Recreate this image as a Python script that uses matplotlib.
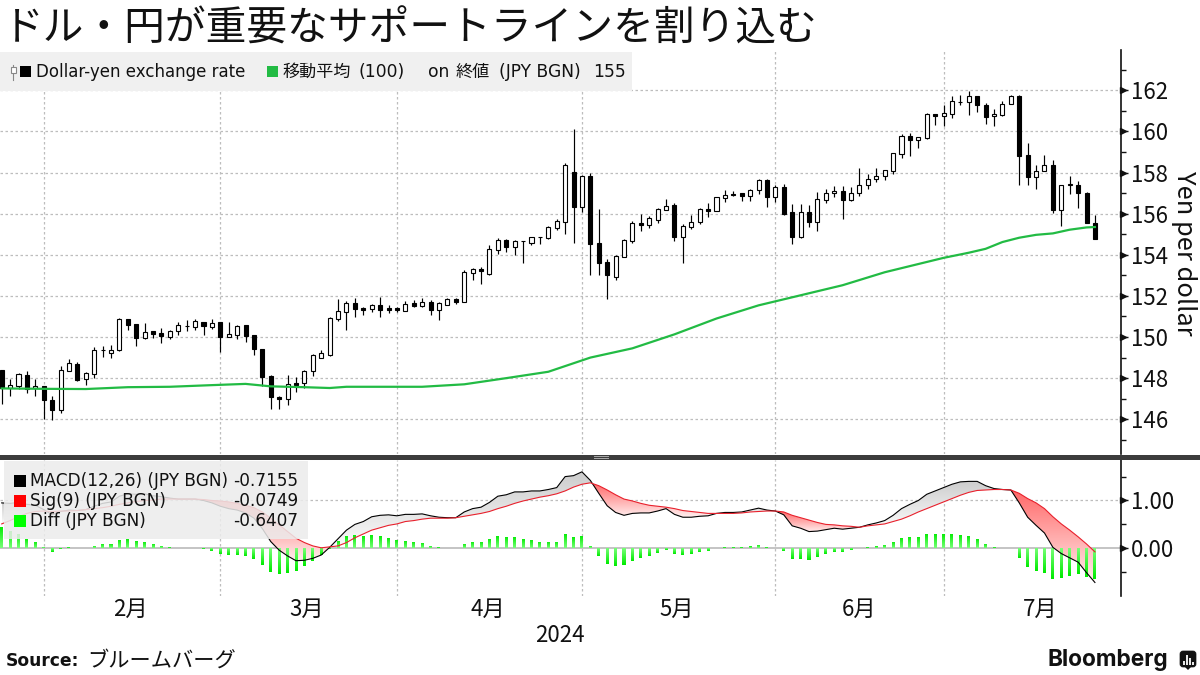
import numpy as np
import matplotlib
matplotlib.use('Agg')
import matplotlib.pyplot as plt
from matplotlib.patches import FancyBboxPatch, PathPatch, Rectangle, Polygon

plt.rcParams['font.family'] = ['Noto Sans CJK JP', 'DejaVu Sans']
LEGEND_FONT = ['DejaVu Sans', 'Noto Sans CJK JP']

# daily candles, Jan 25 - Jul 2024
candle_open = [148.39, 147.51, 147.64, 148.16, 147.51, 147.63, 146.96, 146.44, 148.34, 148.70,
               147.95, 148.20, 149.35, 149.20, 149.37, 150.86, 150.62, 149.93, 150.28, 150.18,
               149.98, 150.28, 150.55, 150.47, 150.75, 150.50, 150.72, 150.00, 150.10, 150.57,
               150.08, 149.43, 148.08, 147.10, 146.98, 147.77, 147.74, 148.34, 149.00, 149.11,
               150.86, 151.23, 151.65, 151.39, 151.36, 151.56, 151.41, 151.39, 151.28, 151.65,
               151.51, 151.70, 151.31, 151.57, 151.83, 151.72, 153.13, 153.31, 153.05, 154.25,
               154.72, 154.39, 154.65, 154.59, 154.85, 154.81, 155.30, 155.61, 158.02, 156.32,
               157.83, 154.57, 153.65, 152.93, 153.91, 154.68, 155.54, 155.46, 155.70, 156.19,
               156.40, 154.86, 155.33, 155.58, 156.24, 156.13, 156.78, 156.98, 156.99, 156.86,
               157.15, 157.63, 156.81, 157.32, 156.07, 154.85, 156.10, 155.59, 156.67, 156.99,
               157.12, 156.67, 157.01, 157.40, 157.69, 157.84, 158.08, 158.92, 159.80, 159.59,
               159.67, 160.83, 160.76, 160.83, 161.45, 161.45, 161.71, 161.27, 160.73, 160.81,
               161.32, 161.72, 158.83, 157.80, 158.08, 158.37, 156.20, 157.37, 157.37, 157.02,
               155.56]
candle_close = [147.53, 147.69, 148.18, 147.48, 147.64, 146.93, 146.44, 148.42, 148.72, 147.93,
                148.23, 149.35, 149.35, 149.38, 150.86, 150.59, 149.95, 150.26, 150.15, 150.05,
                150.31, 150.57, 150.55, 150.76, 150.54, 150.70, 150.00, 150.16, 150.55, 150.05,
                149.40, 148.05, 147.07, 146.98, 147.72, 147.69, 148.36, 149.11, 149.20, 150.91,
                151.28, 151.65, 151.38, 151.33, 151.54, 151.31, 151.33, 151.33, 151.62, 151.52,
                151.69, 151.31, 151.64, 151.85, 151.70, 153.14, 153.31, 153.23, 154.26, 154.72,
                154.39, 154.65, 154.65, 154.85, 154.85, 155.33, 155.62, 158.36, 156.32, 157.83,
                154.52, 153.60, 153.01, 153.94, 154.72, 155.54, 155.46, 155.77, 156.21, 156.39,
                154.86, 155.38, 155.61, 156.24, 156.13, 156.80, 156.93, 156.91, 156.86, 157.17,
                157.63, 156.81, 157.32, 156.00, 154.86, 156.10, 155.59, 156.73, 157.02, 157.12,
                156.67, 157.02, 157.37, 157.71, 157.85, 158.10, 158.93, 159.80, 159.59, 159.71,
                160.85, 160.76, 160.88, 161.46, 161.45, 161.71, 161.27, 160.72, 160.83, 161.32,
                161.72, 158.81, 157.79, 158.08, 158.37, 156.18, 157.37, 157.46, 157.01, 155.54,
                154.76]
candle_high = [148.42, 147.97, 148.23, 148.34, 147.97, 147.63, 147.12, 148.59, 148.91, 148.80,
               148.29, 149.53, 149.56, 149.59, 150.94, 150.86, 150.62, 150.70, 150.31, 150.46,
               150.36, 150.73, 150.81, 150.86, 150.75, 150.88, 150.72, 150.75, 150.60, 150.60,
               150.11, 149.43, 148.13, 147.15, 148.16, 148.05, 148.39, 149.19, 149.38, 150.98,
               151.87, 151.73, 151.88, 151.47, 151.59, 151.96, 151.54, 151.44, 151.77, 151.80,
               151.91, 151.78, 151.72, 151.90, 151.91, 153.26, 153.34, 153.40, 154.46, 154.81,
               154.78, 154.72, 154.65, 154.88, 154.88, 155.38, 155.75, 158.46, 160.13, 157.88,
               157.99, 156.24, 153.78, 153.99, 154.75, 155.66, 155.96, 155.90, 156.26, 156.73,
               156.52, 155.48, 155.95, 156.28, 156.54, 156.81, 157.17, 157.12, 157.01, 157.22,
               157.71, 157.67, 157.38, 157.43, 156.49, 156.49, 156.44, 157.06, 157.19, 157.35,
               157.35, 157.30, 158.23, 157.95, 158.24, 158.13, 158.96, 159.87, 159.90, 159.74,
               160.88, 160.83, 161.27, 161.71, 161.76, 161.97, 161.72, 161.40, 161.11, 161.50,
               161.79, 161.76, 159.45, 158.37, 158.83, 158.59, 157.37, 157.84, 157.61, 157.06,
               155.95]
candle_low = [146.72, 147.12, 147.48, 147.28, 147.15, 146.00, 145.95, 146.29, 148.34, 147.87,
              147.69, 148.00, 149.04, 148.98, 149.32, 150.34, 149.56, 149.90, 149.93, 149.71,
              149.90, 150.10, 150.31, 150.33, 150.10, 150.41, 149.25, 150.00, 149.90, 149.74,
              149.14, 147.61, 146.52, 146.52, 146.68, 147.32, 147.51, 148.10, 148.98, 149.06,
              150.78, 150.34, 150.99, 151.07, 151.23, 150.99, 151.18, 151.23, 151.28, 151.47,
              151.47, 151.07, 150.83, 151.54, 151.59, 151.70, 152.77, 152.59, 153.01, 154.04,
              154.15, 153.99, 153.60, 154.47, 154.54, 154.78, 155.20, 155.01, 154.55, 156.08,
              153.03, 153.03, 151.86, 152.77, 153.91, 154.59, 155.17, 155.32, 155.56, 156.18,
              154.67, 153.60, 155.25, 155.48, 155.85, 156.13, 156.57, 156.85, 156.63, 156.62,
              156.96, 156.33, 156.55, 155.95, 154.52, 154.81, 155.35, 155.15, 156.50, 156.81,
              155.72, 156.62, 156.86, 157.20, 157.54, 157.63, 157.92, 158.72, 158.82, 159.19,
              159.64, 160.29, 160.28, 160.67, 161.27, 160.81, 160.93, 160.34, 160.28, 160.76,
              161.32, 157.41, 157.37, 157.20, 158.08, 156.03, 155.40, 156.96, 156.29, 155.54,
              154.76]

# 100-day moving average, read at a few sessions
ma_index = [0, 5, 10, 15, 20, 25, 29, 32, 36, 39, 41, 50, 55, 60, 65, 70, 75, 80, 85, 90, 95,
            100, 105, 110, 112, 115, 117, 119, 121, 123, 125, 127, 129, 130]
ma_values = [147.50, 147.48, 147.47, 147.56, 147.58, 147.66, 147.72, 147.60, 147.56, 147.52,
             147.58, 147.58, 147.70, 148.00, 148.31, 149.00, 149.45, 150.13, 150.90, 151.54,
             152.03, 152.52, 153.15, 153.65, 153.85, 154.10, 154.29, 154.62, 154.83, 154.97,
             155.04, 155.22, 155.33, 155.35]

macd_values = [0.95, 0.94, 0.96, 0.92, 0.90, 0.81, 0.70, 0.77, 0.80, 0.79,
               0.81, 0.88, 0.94, 0.97, 1.09, 1.14, 1.13, 1.14, 1.10, 1.08,
               1.05, 1.03, 1.03, 1.03, 1.00, 0.95, 0.88, 0.83, 0.80, 0.74,
               0.63, 0.41, 0.14, -0.04, -0.16, -0.26, -0.25, -0.21, -0.14, 0.02,
               0.20, 0.38, 0.50, 0.56, 0.66, 0.69, 0.70, 0.68, 0.71, 0.71,
               0.72, 0.68, 0.65, 0.64, 0.64, 0.76, 0.83, 0.86, 0.96, 1.09,
               1.12, 1.18, 1.18, 1.20, 1.20, 1.23, 1.27, 1.50, 1.52, 1.60,
               1.42, 1.15, 0.89, 0.75, 0.69, 0.73, 0.74, 0.74, 0.78, 0.83,
               0.71, 0.65, 0.65, 0.67, 0.68, 0.73, 0.75, 0.75, 0.76, 0.80,
               0.84, 0.80, 0.78, 0.70, 0.47, 0.42, 0.35, 0.36, 0.39, 0.42,
               0.40, 0.42, 0.44, 0.49, 0.53, 0.58, 0.69, 0.83, 0.92, 1.00,
               1.13, 1.20, 1.27, 1.34, 1.39, 1.40, 1.40, 1.31, 1.25, 1.23,
               1.22, 0.95, 0.65, 0.48, 0.32, 0.02, -0.11, -0.20, -0.29, -0.51,
               -0.7155]
sig_values = [0.51, 0.58, 0.66, 0.73, 0.77, 0.78, 0.77, 0.78, 0.78, 0.79,
              0.81, 0.83, 0.85, 0.88, 0.92, 0.95, 0.98, 1.00, 1.01, 1.03,
              1.03, 1.03, 1.03, 1.03, 1.02, 1.00, 0.99, 0.97, 0.94, 0.90,
              0.85, 0.76, 0.63, 0.49, 0.35, 0.21, 0.12, 0.05, 0.01, 0.03,
              0.05, 0.12, 0.22, 0.30, 0.38, 0.43, 0.48, 0.51, 0.56, 0.58,
              0.61, 0.63, 0.63, 0.63, 0.64, 0.67, 0.70, 0.73, 0.77, 0.83,
              0.88, 0.94, 0.99, 1.03, 1.07, 1.10, 1.14, 1.20, 1.28, 1.34,
              1.37, 1.31, 1.22, 1.12, 1.03, 0.99, 0.94, 0.90, 0.88, 0.86,
              0.83, 0.79, 0.77, 0.75, 0.73, 0.73, 0.73, 0.73, 0.74, 0.76,
              0.77, 0.78, 0.78, 0.76, 0.69, 0.64, 0.59, 0.54, 0.50, 0.49,
              0.47, 0.46, 0.44, 0.47, 0.49, 0.51, 0.56, 0.61, 0.68, 0.76,
              0.83, 0.90, 0.97, 1.04, 1.11, 1.17, 1.21, 1.22, 1.23, 1.23,
              1.22, 1.15, 1.04, 0.95, 0.83, 0.66, 0.51, 0.38, 0.24, 0.09,
              -0.0749]
diff_values = [0.44, 0.36, 0.30, 0.19, 0.13, 0.03, -0.07, -0.01, 0.02, 0.0,
               0.0, 0.05, 0.09, 0.09, 0.17, 0.19, 0.15, 0.14, 0.09, 0.05,
               0.02, 0.0, 0.0, 0.0, -0.02, -0.05, -0.11, -0.14, -0.14, -0.16,
               -0.22, -0.35, -0.49, -0.53, -0.51, -0.47, -0.37, -0.26, -0.15, -0.01,
               0.15, 0.26, 0.28, 0.26, 0.28, 0.26, 0.22, 0.17, 0.15, 0.13,
               0.11, 0.05, 0.02, 0.01, 0.0, 0.09, 0.13, 0.13, 0.19, 0.26,
               0.24, 0.24, 0.19, 0.17, 0.13, 0.13, 0.13, 0.30, 0.24, 0.26,
               0.05, -0.16, -0.33, -0.37, -0.34, -0.26, -0.20, -0.16, -0.10, -0.03,
               -0.12, -0.14, -0.12, -0.08, -0.05, 0.0, 0.02, 0.02, 0.02, 0.04,
               0.07, 0.02, 0.0, -0.06, -0.22, -0.22, -0.24, -0.18, -0.11, -0.07,
               -0.07, -0.04, 0.0, 0.02, 0.04, 0.07, 0.13, 0.22, 0.24, 0.24,
               0.30, 0.30, 0.30, 0.30, 0.28, 0.26, 0.19, 0.09, 0.02, 0.0,
               0.0, -0.20, -0.39, -0.47, -0.51, -0.64, -0.62, -0.58, -0.53, -0.60,
               -0.6407]

month_starts = [5, 26, 47, 69, 92, 112]
month_labels = ['2月', '3月', '4月', '5月', '6月', '7月']
month_label_pos = [15.3, 36.3, 57.8, 80.3, 101.9, 123.5]
price_ticks = [146, 148, 150, 152, 154, 156, 158, 160, 162]
price_minor = [145, 147, 149, 151, 153, 155, 157, 159, 161, 163]
macd_ticks = [0.0, 1.0]
macd_minor = [-0.5, 0.5, 1.5]

GRID = '#bdbdbd'
INK = '#111111'


def px_rect(left, top, right, bottom):
    return [left / 1200, 1 - bottom / 675, (right - left) / 1200, (bottom - top) / 675]


def gradient_fill(ax, path, top_rgb, bottom_rgb, zorder=2):
    # vertical gradient clipped to a path, same look as the terminal fills
    box = path.get_extents()
    if box.width <= 0 or box.height <= 0:
        return
    ramp = np.linspace(0, 1, 64)[:, None, None]
    img = (1 - ramp) * np.array(top_rgb) / 255 + ramp * np.array(bottom_rgb) / 255
    im = ax.imshow(img, extent=[box.x0, box.x1, box.y0, box.y1], origin='upper',
                   aspect='auto', zorder=zorder, interpolation='bilinear')
    im.set_clip_path(PathPatch(path, transform=ax.transData))


def style_right_axis(ax, majors, minors, fmt):
    ax.yaxis.tick_right()
    ax.set_yticks(majors)
    ax.set_yticklabels([fmt % v for v in majors], fontsize=16, color=INK)
    ax.set_yticks(minors, minor=True)
    ax.tick_params(axis='y', which='major', length=5, width=1.0, pad=2.5, color=INK)
    ax.tick_params(axis='y', which='minor', length=3.5, width=1.0, color=INK)
    ax.plot([1.002] * len(majors), majors, ls='none', marker='>', ms=4, color=INK,
            transform=ax.get_yaxis_transform(), clip_on=False, zorder=6)
    ax.tick_params(axis='x', which='both', length=0, labelbottom=False)
    for side in ['top', 'left', 'bottom']:
        ax.spines[side].set_visible(False)
    ax.spines['right'].set_linewidth(1.2)
    ax.spines['right'].set_color(INK)


x = np.arange(len(candle_open))
o = np.array(candle_open)
c = np.array(candle_close)
h = np.array(candle_high)
l = np.array(candle_low)
macd = np.array(macd_values)
sig = np.array(sig_values)
diff = np.array(diff_values)

fig = plt.figure(figsize=(12, 6.75), dpi=100)
ax = fig.add_axes(px_rect(0, 50, 1120.5, 454))
ax2 = fig.add_axes(px_rect(0, 460, 1120.5, 596))

# price panel
ax.vlines(x, l, h, color='black', lw=0.85, zorder=3)
body_colors = ['black' if b < a else 'white' for a, b in zip(o, c)]
ax.bar(x, c - o, bottom=o, width=0.48, color=body_colors, edgecolor='black', linewidth=0.8, zorder=4)
ax.plot(ma_index, ma_values, color='#22bb44', lw=1.6, zorder=5)
ax.set_yticks(price_ticks)
ax.grid(True, axis='y', color=GRID, ls=(0, (2, 2)), lw=0.9, zorder=0)
for m in month_starts:
    ax.axvline(m, color=GRID, ls=(0, (2, 2)), lw=0.9, zorder=0)
style_right_axis(ax, price_ticks, price_minor, '%d')
ax.set_xlim(-0.2, 133.04)
ax.set_ylim(162 - (454 - 90.3) / 20.56, 162 + (90.3 - 50) / 20.56)
ax.set_axisbelow(True)

# macd panel
grey_fill = ax2.fill_between(x, macd, sig, where=macd >= sig, interpolate=True, color='none')
red_fill = ax2.fill_between(x, macd, sig, where=macd <= sig, interpolate=True, color='none')
for path in grey_fill.get_paths():
    gradient_fill(ax2, path, (205, 205, 205), (250, 250, 250))
for path in red_fill.get_paths():
    gradient_fill(ax2, path, (255, 105, 105), (255, 238, 238))
bars = ax2.bar(x, diff, width=0.36, color='#28f028', linewidth=0, zorder=3)
for patch, v in zip(bars, diff):
    if abs(v) > 0.02:
        patch.set_facecolor('none')
        tip, base = (0, 235, 0), (120, 255, 120)
        if v > 0:
            gradient_fill(ax2, patch.get_path().transformed(patch.get_patch_transform()), tip, base, zorder=3)
        else:
            gradient_fill(ax2, patch.get_path().transformed(patch.get_patch_transform()), base, tip, zorder=3)
ax2.plot(x, macd, color='black', lw=0.8, zorder=4)
ax2.plot(x, sig, color='#e8202c', lw=0.8, zorder=5)
ax2.axhline(0, color='#b4b4b4', lw=1.1, zorder=1)
ax2.axhline(1, color=GRID, ls=(0, (2, 2)), lw=0.9, zorder=0)
for m in month_starts:
    ax2.axvline(m, color=GRID, ls=(0, (2, 2)), lw=0.9, zorder=0)
style_right_axis(ax2, macd_ticks, macd_minor, '%.2f')
ax2.set_xlim(-0.2, 133.04)
ax2.set_ylim((548.3 - 596) / 47.8, (548.3 - 460) / 47.8)
for pos, lab in zip(month_label_pos, month_labels):
    ax2.annotate(lab, (pos, 0), xycoords=('data', 'axes fraction'), xytext=(0, -9.5),
                 textcoords='offset points', ha='center', va='center', fontsize=16, color=INK)
ax2.annotate('2024', (66.4, 0), xycoords=('data', 'axes fraction'), xytext=(0, -28.5),
             textcoords='offset points', ha='center', va='center', fontsize=16, color=INK)

# page furniture in pixel coordinates
ov = fig.add_axes([0, 0, 1, 1], zorder=10)
ov.set_xlim(0, 1200)
ov.set_ylim(675, 0)
ov.axis('off')
ov.patch.set_alpha(0)

ov.text(3, 29, 'ドル・円が重要なサポートラインを割り込む', fontsize=29.3, va='center', ha='left', color=INK)

# top legend
ov.add_patch(Rectangle((0, 52), 632, 39, fc='#f0f0f0', ec='none', zorder=1))
ov.add_patch(Rectangle((10.5, 67), 5, 6, fc='white', ec='#888888', lw=0.8, zorder=2))
ov.plot([13, 13], [65, 80], color='#888888', lw=0.8, zorder=1.5)
ov.add_patch(Rectangle((20, 66), 11, 11, fc='black', ec='none', zorder=2))
ov.text(36, 72, 'Dollar-yen exchange rate', fontsize=12, family=LEGEND_FONT, va='center', color=INK, zorder=3)
ov.add_patch(Rectangle((267, 66), 11, 11, fc='#22bb44', ec='none', zorder=2))
for piece, px in zip(['移動平均', '(100)', 'on', '終値', '(JPY BGN)', '155'], [283, 359, 428, 456, 499, 593]):
    ov.text(px, 72, piece, fontsize=12.3, family=LEGEND_FONT, va='center', color=INK, zorder=3)

# separator between the panels
ov.add_patch(Rectangle((0, 455), 1200, 4.5, fc='#3c3c3c', ec='none', zorder=2))
ov.plot([594, 608], [456.2, 456.2], color='#aaaaaa', lw=0.7, zorder=3)
ov.plot([594, 608], [458, 458], color='#aaaaaa', lw=0.7, zorder=3)

# lower legend
ov.add_patch(Rectangle((4, 461), 304, 78, fc='#ececec', ec='none', alpha=0.85, zorder=1))
legend_rows = [('black', 'MACD(12,26) (JPY BGN)', '-0.7155', 481),
               ('#ff0000', 'Sig(9) (JPY BGN)', '-0.0749', 501),
               ('#00ff00', 'Diff (JPY BGN)', '-0.6407', 521)]
for col, name, val, ypos in legend_rows:
    ov.add_patch(Rectangle((14, ypos - 6), 12, 12, fc=col, ec='none', zorder=2))
    ov.text(30, ypos, name, fontsize=12.2, family=LEGEND_FONT, va='center', color=INK, zorder=3)
    ov.text(298, ypos, val, fontsize=12.2, family=LEGEND_FONT, va='center', ha='right', color=INK, zorder=3)

ov.text(1184, 253, 'Yen per dollar', fontsize=18.3, rotation=270, va='center', ha='center', color=INK)

# footer
ov.text(6, 661, 'Source:', fontsize=12.3, fontweight='bold', family=['DejaVu Sans'], va='center', color=INK)
ov.text(87, 661, 'ブルームバーグ', fontsize=15.3, va='center', color=INK)
ov.text(1168, 660, 'Bloomberg', fontsize=16.3, fontweight='bold', family=['Inter'], va='center', ha='right', color=INK)
ov.add_patch(FancyBboxPatch((1180, 651), 16, 16, boxstyle='round,pad=0,rounding_size=3', fc='#111111', ec='#111111', lw=0.5))
ov.add_patch(Polygon([(1185, 667), (1191, 667), (1188, 670)], fc='#111111', ec='none'))
for bx, bt in zip([1183.5, 1186.8, 1190, 1193], [661, 655, 658, 662]):
    ov.plot([bx, bx], [bt, 665], color='white', lw=1.3, solid_capstyle='butt')

fig.savefig('out.png', dpi=100)
plt.close(fig)
